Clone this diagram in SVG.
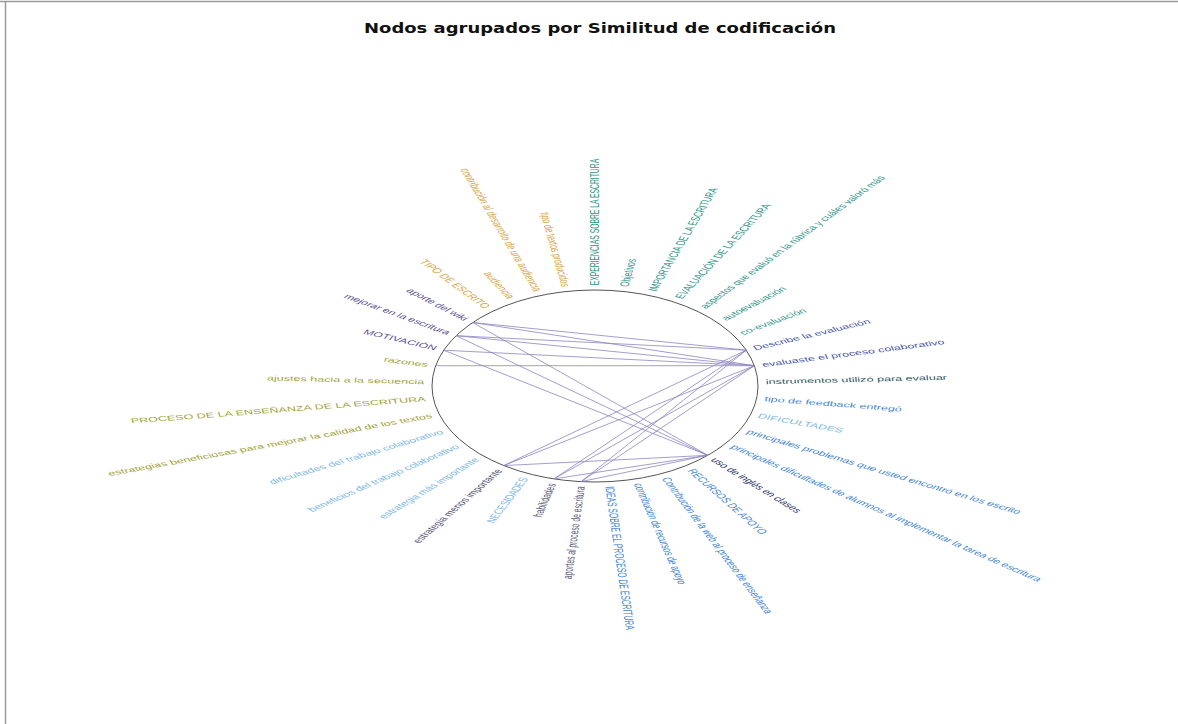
<svg xmlns="http://www.w3.org/2000/svg" width="1178" height="724" viewBox="0 0 1178 724">
<style>
.lbl{font-family:"Liberation Sans",Arial,sans-serif;font-size:12.6px;dominant-baseline:central}
.r{text-anchor:start}
.l{text-anchor:end}
.gold{fill:#d6a449}
.teal{fill:#33968a}
.dblue{fill:#4656a8}
.blue{fill:#3f86d2}
.lblue{fill:#7db8e6}
.slate{fill:#2d5560}
.navy{fill:#2c3566}
.gpur{fill:#5a5878}
.olive{fill:#a3a33a}
.purp{fill:#5b5290}
.edge{stroke:#8f86c0;stroke-width:1;stroke-opacity:0.8;fill:none}
</style>
<rect x="0" y="0" width="1178" height="724" fill="#ffffff"/>
<path d="M0 1.5 H1178 M5.5 1.5 V724" fill="none" stroke="#9a9a9a" stroke-width="1.5"/>
<text x="600" y="33" font-family="DejaVu Sans,Verdana,sans-serif" font-weight="bold" font-size="14" text-anchor="middle" textLength="472" lengthAdjust="spacingAndGlyphs" fill="#111">Nodos agrupados por Similitud de codificación</text>

<ellipse cx="595" cy="386" rx="163" ry="96" fill="none" stroke="#555" stroke-width="1"/>

<g id="connectors">
<line class="edge" x1="472.6" y1="322.5" x2="746.3" y2="350.2"/>
<line class="edge" x1="472.6" y1="322.5" x2="754.4" y2="365.7"/>
<line class="edge" x1="472.6" y1="322.5" x2="707.8" y2="455.3"/>
<line class="edge" x1="456.1" y1="335.7" x2="746.3" y2="350.2"/>
<line class="edge" x1="456.1" y1="335.7" x2="754.4" y2="365.7"/>
<line class="edge" x1="456.1" y1="335.7" x2="707.8" y2="455.3"/>
<line class="edge" x1="443.7" y1="350.2" x2="754.4" y2="365.7"/>
<line class="edge" x1="443.7" y1="350.2" x2="707.8" y2="455.3"/>
<line class="edge" x1="435.6" y1="365.7" x2="754.4" y2="365.7"/>
<line class="edge" x1="503.7" y1="465.6" x2="746.3" y2="350.2"/>
<line class="edge" x1="503.7" y1="465.6" x2="754.4" y2="365.7"/>
<line class="edge" x1="503.7" y1="465.6" x2="707.8" y2="455.3"/>
<line class="edge" x1="553.9" y1="478.9" x2="746.3" y2="350.2"/>
<line class="edge" x1="553.9" y1="478.9" x2="754.4" y2="365.7"/>
<line class="edge" x1="553.9" y1="478.9" x2="707.8" y2="455.3"/>
<line class="edge" x1="581.1" y1="481.6" x2="746.3" y2="350.2"/>
<line class="edge" x1="581.1" y1="481.6" x2="754.4" y2="365.7"/>
<line class="edge" x1="581.1" y1="481.6" x2="707.8" y2="455.3"/>
</g>

<g id="n01"><text class="lbl r teal" transform="translate(595,285.3) scale(1,0.538) rotate(-90)">EXPERIENCIAS SOBRE LA ESCRITURA</text></g>
<g id="n02"><text class="lbl r teal" transform="translate(623.9,286.7) scale(1,0.538) rotate(-81.12)">Objetivos</text></g>
<g id="n03"><text class="lbl r teal" transform="translate(652,291) scale(1,0.538) rotate(-72.08)">IMPORTANCIA DE LA ESCRITURA</text></g>
<g id="n04"><text class="lbl r teal" transform="translate(678.4,298.1) scale(1,0.538) rotate(-62.97)">EVALUACIÓN DE LA ESCRITURA</text></g>
<g id="n05"><text class="lbl r teal" transform="translate(702.4,307.7) scale(1,0.538) rotate(-53.59)">aspectos que evaluó en la rúbrica y cuáles valoró más</text></g>
<g id="n06"><text class="lbl r teal" transform="translate(723.4,319.4) scale(1,0.538) rotate(-43.94)">autoevaluación</text></g>
<g id="n07"><text class="lbl r teal" transform="translate(740.7,333.2) scale(1,0.538) rotate(-34)">co-evaluación</text></g>
<g id="n08"><text class="lbl r dblue" transform="translate(753.7,348.4) scale(1,0.538) rotate(-23.75)">Describe la evaluación</text></g>
<g id="n09"><text class="lbl r dblue" transform="translate(762.2,364.8) scale(1,0.538) rotate(-13.28)">evaluaste el proceso colaborativo</text></g>
<g id="n10"><text class="lbl r slate" transform="translate(765.8,381.8) scale(1,0.538) rotate(-2.66)">instrumentos utilizó para evaluar</text></g>
<g id="n11"><text class="lbl r blue" transform="translate(764.6,398.8) scale(1,0.538) rotate(7.99)">tipo de feedback entregó</text></g>
<g id="n12"><text class="lbl r lblue" transform="translate(758.5,415.5) scale(1,0.538) rotate(18.54)">DIFICULTADES</text></g>
<g id="n13"><text class="lbl r blue" transform="translate(747.7,431.3) scale(1,0.538) rotate(28.91)">principales problemas que usted encontró en los escrito</text></g>
<g id="n14"><text class="lbl r blue" transform="translate(732.5,445.9) scale(1,0.538) rotate(39.02)">principales dificultades de alumnos al implementar la tarea de escritura</text></g>
<g id="n15"><text class="lbl r navy" transform="translate(713.3,458.7) scale(1,0.538) rotate(48.84)">uso de inglés en clases</text></g>
<g id="n16"><text class="lbl r blue" transform="translate(690.8,469.5) scale(1,0.538) rotate(58.33)">RECURSOS DE APOYO</text></g>
<g id="n17"><text class="lbl r blue" transform="translate(665.5,477.7) scale(1,0.538) rotate(67.56)">Contribución de la web al proceso de enseñanza</text></g>
<g id="n18"><text class="lbl r blue" transform="translate(638.1,483.5) scale(1,0.538) rotate(76.6)">contribución de recursos de apoyo</text></g>
<g id="n19"><text class="lbl r blue" transform="translate(609.5,486.3) scale(1,0.538) rotate(85.56)">IDEAS SOBRE EL PROCESO DE ESCRITURA</text></g>
<g id="n20"><text class="lbl l gpur" transform="translate(580.5,486.3) scale(1,0.538) rotate(-85.56)">aportes al proceso de escritura</text></g>
<g id="n21"><text class="lbl l gpur" transform="translate(551.9,483.5) scale(1,0.538) rotate(-76.6)">habilidades</text></g>
<g id="n22"><text class="lbl l lblue" transform="translate(524.5,477.7) scale(1,0.538) rotate(-67.56)">NECESIDADES</text></g>
<g id="n23"><text class="lbl l gpur" transform="translate(499.2,469.5) scale(1,0.538) rotate(-58.33)">estrategia menos importante</text></g>
<g id="n24"><text class="lbl l lblue" transform="translate(476.7,458.7) scale(1,0.538) rotate(-48.84)">estrategia más importante</text></g>
<g id="n25"><text class="lbl l lblue" transform="translate(457.5,445.9) scale(1,0.538) rotate(-39.02)">beneficios del trabajo colaborativo</text></g>
<g id="n26"><text class="lbl l lblue" transform="translate(442.3,431.3) scale(1,0.538) rotate(-28.91)">dificultades del trabajo colaborativo</text></g>
<g id="n27"><text class="lbl l olive" transform="translate(431.5,415.5) scale(1,0.538) rotate(-18.54)">estrategias beneficiosas para mejorar la calidad de los textos</text></g>
<g id="n28"><text class="lbl l olive" transform="translate(425.4,398.8) scale(1,0.538) rotate(-7.99)">PROCESO DE LA ENSEÑANZA DE LA ESCRITURA</text></g>
<g id="n29"><text class="lbl l olive" transform="translate(424.2,381.8) scale(1,0.538) rotate(2.66)">ajustes hacia a la secuencia</text></g>
<g id="n30"><text class="lbl l olive" transform="translate(427.8,364.8) scale(1,0.538) rotate(13.28)">razones</text></g>
<g id="n31"><text class="lbl l purp" transform="translate(436.3,348.4) scale(1,0.538) rotate(23.75)">MOTIVACIÓN</text></g>
<g id="n32"><text class="lbl l purp" transform="translate(449.3,333.2) scale(1,0.538) rotate(34)">mejorar en la escritura</text></g>
<g id="n33"><text class="lbl l purp" transform="translate(466.6,319.4) scale(1,0.538) rotate(43.94)">aporte del wiki</text></g>
<g id="n34"><text class="lbl l gold" transform="translate(487.6,307.7) scale(1,0.538) rotate(53.59)">TIPO DE ESCRITO</text></g>
<g id="n35"><text class="lbl l gold" transform="translate(511.6,298.1) scale(1,0.538) rotate(62.97)">audiencia</text></g>
<g id="n36"><text class="lbl l gold" transform="translate(538,291) scale(1,0.538) rotate(72.08)">contribución al desarrollo de una audiencia</text></g>
<g id="n37"><text class="lbl l gold" transform="translate(566.1,286.7) scale(1,0.538) rotate(81.12)">tipo de textos producidos</text></g>
</svg>
